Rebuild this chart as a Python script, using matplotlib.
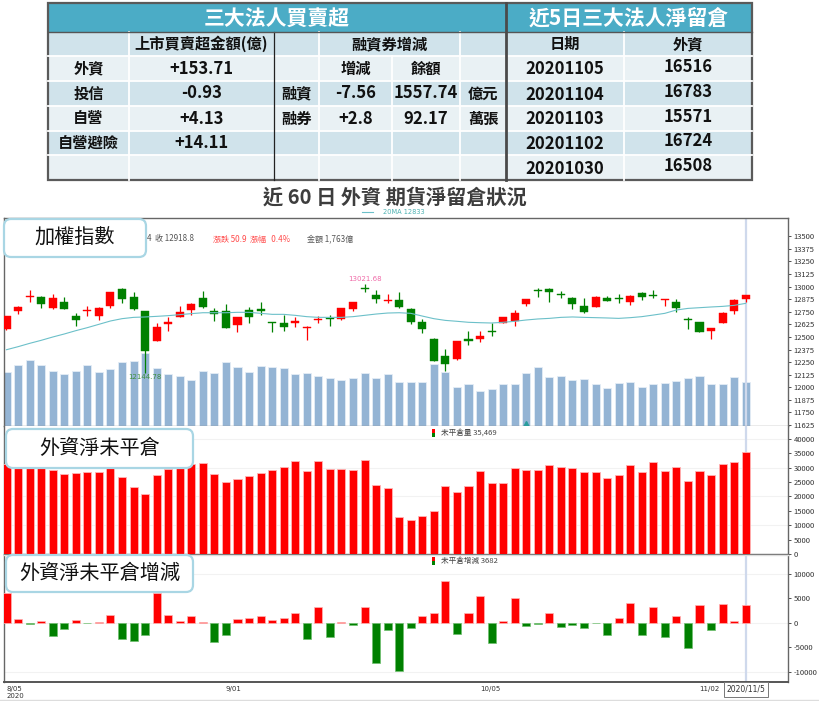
import numpy as np
import matplotlib
matplotlib.use("Agg")
import matplotlib.pyplot as plt
from matplotlib.patches import Rectangle, FancyBboxPatch

plt.rcParams['font.family'] = ['Noto Sans CJK TC', 'DejaVu Sans']

# ---- 表格資料 ----
left_title = "三大法人買賣超"
right_title = "近5日三大法人淨留倉"
inst_names = ["外資", "投信", "自營", "自營避險"]
inst_net = ["+153.71", "-0.93", "+4.13", "+14.11"]
margin_names = ["融資", "融券"]
margin_chg = ["-7.56", "+2.8"]
margin_bal = ["1557.74", "92.17"]
margin_unit = ["億元", "萬張"]
oi_dates = ["20201105", "20201104", "20201103", "20201102", "20201030"]
oi_foreign = ["16516", "16783", "15571", "16724", "16508"]

# ---- 加權指數 K 線 ----
opens = [12575, 12757, 12893, 12893, 12783, 12850, 12707, 12757, 12707, 12810,
         12972, 12899, 12757, 12459, 12628, 12701, 12767, 12883, 12757, 12757,
         12618, 12767, 12774, 12645, 12641, 12635, 12588, 12668, 12691, 12674,
         12777, 12982, 12912, 12853, 12866, 12780, 12648, 12482, 12307, 12278,
         12479, 12479, 12562, 12638, 12661, 12823, 12957, 12979, 12925, 12883,
         12807, 12800, 12883, 12880, 12850, 12939, 12919, 12866, 12843, 12681,
         12645, 12562, 12638, 12760, 12876]
highs = [12710, 12810, 12965, 12906, 12926, 12899, 12734, 12807, 12793, 12950,
         12982, 12942, 12760, 12635, 12701, 12807, 12833, 12955, 12790, 12826,
         12697, 12800, 12850, 12645, 12717, 12694, 12605, 12707, 12717, 12783,
         12850, 13021.68, 12965, 12922, 12942, 12783, 12674, 12485, 12377, 12460,
         12562, 12562, 12635, 12700, 12767, 12880, 12988, 12982, 12955, 12899,
         12889, 12906, 12906, 12926, 12912, 12949, 12965, 12873, 12873, 12694,
         12651, 12588, 12750, 12876, 12920]
lows = [12570, 12731, 12843, 12783, 12780, 12775, 12612, 12707, 12668, 12790,
        12833, 12772, 12144.78, 12455, 12562, 12695, 12717, 12783, 12658, 12585,
        12552, 12635, 12717, 12552, 12562, 12602, 12469, 12641, 12612, 12670,
        12757, 12942, 12840, 12833, 12790, 12625, 12542, 12260, 12160, 12275,
        12420, 12453, 12509, 12635, 12608, 12810, 12899, 12850, 12883, 12777,
        12740, 12797, 12857, 12833, 12817, 12866, 12889, 12807, 12750, 12575,
        12545, 12476, 12635, 12727, 12850]
closes = [12707, 12800, 12909, 12826, 12886, 12777, 12668, 12760, 12790, 12949,
          12873, 12774, 12363, 12602, 12645, 12750, 12826, 12793, 12724, 12585,
          12694, 12694, 12754, 12640, 12602, 12658, 12602, 12681, 12674, 12783,
          12843, 12976, 12873, 12866, 12793, 12645, 12582, 12264, 12231, 12456,
          12463, 12506, 12545, 12698, 12734, 12876, 12955, 12942, 12920, 12823,
          12744, 12899, 12860, 12876, 12909, 12899, 12903, 12870, 12790, 12664,
          12549, 12585, 12734, 12868, 12918.8]
ma20 = [12373, 12403, 12436, 12466, 12499, 12529, 12562, 12592, 12625, 12658,
        12681, 12694, 12698, 12704, 12711, 12721, 12731, 12740, 12740, 12740,
        12744, 12744, 12734, 12724, 12724, 12714, 12701, 12694, 12694, 12694,
        12701, 12714, 12727, 12737, 12740, 12734, 12707, 12681, 12664, 12655,
        12645, 12641, 12638, 12645, 12655, 12668, 12678, 12684, 12694, 12698,
        12694, 12691, 12688, 12684, 12691, 12701, 12717, 12734, 12767, 12783,
        12790, 12797, 12803, 12813, 12833]
volume = [2163, 2414, 2640, 2414, 2175, 2070, 2202, 2414, 2163, 2255,
          2534, 2574, 2893, 2295, 2070, 2003, 1818, 2202, 2109, 2534,
          2335, 2136, 2388, 2361, 2295, 2070, 2109, 2003, 1923, 1818,
          1897, 2109, 1897, 2070, 1765, 1738, 1765, 2481, 2136, 1552,
          1685, 1380, 1486, 1658, 1658, 2109, 2335, 1937, 2003, 1831,
          1884, 1658, 1499, 1698, 1765, 1539, 1658, 1725, 1791, 1897,
          2003, 1658, 1685, 1937, 1763]

# ---- 外資淨未平倉 ----
open_interest = [31150, 31900, 31630, 31970, 29185, 27806, 28265, 28495, 28495, 29990,
                 26772, 23095, 20900, 27400, 29480, 29750, 31300, 31483, 27691, 25163,
                 25967, 27002, 28265, 29185, 30104, 32172, 28840, 32172, 29414, 29529,
                 29185, 32632, 24014, 22750, 12984, 11835, 13328, 15052, 23669, 21601,
                 23440, 28840, 24589, 24818, 29989, 29300, 29070, 30793, 30104, 29759,
                 28495, 28610, 26312, 27346, 31023, 28610, 31827, 28840, 30334, 25278,
                 28840, 27346, 31253, 31787, 35469]
oi_change = [5966, 746, -271, 339, -2780, -1288, 542, -50, 150, 1492,
             -3322, -3661, -2576, 5966, 1559, 271, 1424, 203, -3865, -2509,
             814, 1017, 1356, 542, 1017, 1966, -3390, 3187, -2848, 203,
             -407, 3187, -8272, -1424, -9763, -1153, 1424, 1966, 8475, -2305,
             1898, 5356, -4204, 271, 5017, -678, -339, 1898, -814, -407,
             -1153, -100, -2441, 1017, 3932, -2441, 3119, -2983, 1356, -5153,
             3661, -1559, 3865, 339, 3682]

date_ticks = [0, 19, 41, 60]
date_labels = ["8/05\n2020", "9/01", "10/05", "11/02"]
last_date = "2020/11/5"

RED = '#ff0000'
GREEN = '#008000'
TEAL_HEAD = '#4bacc6'
MA_COLOR = '#6cc0c9'

W, H = 820, 701
fig = plt.figure(figsize=(W / 100, H / 100), dpi=100)


def rect(x0, y0, x1, y1):
    return [x0 / W, 1 - y1 / H, (x1 - x0) / W, (y1 - y0) / H]


n = len(closes)
x = np.arange(n)
# 像素 4..788 對應的 index 範圍
XL = (4 - 6.5) / 11.55
XR = (788 - 6.5) / 11.55


def style_axis(ax, ticks, labels=None):
    ax.set_xlim(XL, XR)
    ax.yaxis.tick_right()
    ax.set_yticks(ticks)
    ax.set_yticklabels(labels if labels else [str(t) for t in ticks])
    ax.tick_params(axis='y', labelsize=5.5, length=2.5, width=0.6, colors='#333333', pad=1.5)
    ax.set_xticks([])
    for s in ['left', 'right', 'top', 'bottom']:
        ax.spines[s].set_color('#666666')
        ax.spines[s].set_linewidth(1.0)
    ax.axvline(n - 1, color='#cfd9ec', lw=1.6, zorder=0)


# ---- 成交量 (背景) ----
axv = fig.add_axes(rect(4, 218, 788, 426), zorder=1)
axv.bar(x, volume, width=0.7, color='#94b4d4', edgecolor='#e4edf6', linewidth=0.6)
axv.set_xlim(XL, XR)
axv.set_ylim(0, 8278)
axv.axis('off')

# ---- K 線 ----
ax1 = fig.add_axes(rect(4, 218, 788, 426), zorder=2)
ax1.patch.set_visible(False)
for i in range(n):
    o, h, l, c = opens[i], highs[i], lows[i], closes[i]
    col = RED if c >= o else GREEN
    ax1.vlines(i, l, h, color=col, lw=0.9, zorder=3)
    body = max(abs(c - o), 9)
    ax1.bar(i, body, bottom=min(o, c), width=0.7, color=col, edgecolor=col,
            linewidth=0.3, zorder=4)
ax1.plot(x, ma20, color=MA_COLOR, lw=0.8, zorder=5)
ax1.set_ylim(11616, 13680)
style_axis(ax1, list(range(11625, 13501, 125)))
ax1.spines['bottom'].set_color('#999999')
ax1.plot([45], [11632], marker='^', color='#2a9d9d', markersize=4, zorder=6)
ax1.text(31, highs[31] + 25, "13021.68", color='#f06aa8', fontsize=5,
         ha='center', va='bottom', family='DejaVu Sans')
ax1.text(12, lows[12] - 10, "12144.78", color='#3f8f3f', fontsize=5,
         ha='center', va='top', family='DejaVu Sans')

# ---- 外資淨未平倉 ----
ax2 = fig.add_axes(rect(4, 426, 788, 554), zorder=2)
ax2.bar(x, open_interest, width=0.7, color=RED, edgecolor='#ffb4b4', linewidth=0.6, zorder=3)
ax2.set_ylim(0, 44444)
for g in [10000, 20000, 30000, 40000]:
    ax2.axhline(g, color='#f2f2f2', lw=0.8, zorder=0)
style_axis(ax2, list(range(0, 40001, 5000)))
ax2.spines['top'].set_visible(False)

# ---- 外資淨未平倉增減 ----
ax3 = fig.add_axes(rect(4, 555, 788, 682), zorder=2)
chg_colors = [RED if v >= 0 else GREEN for v in oi_change]
ax3.bar(x, oi_change, width=0.7, color=chg_colors,
        edgecolor=['#ffb4b4' if v >= 0 else '#6fbf6f' for v in oi_change],
        linewidth=0.5, zorder=3)
ax3.set_ylim(-12102, 13816)
for g in [-10000, 0, 10000]:
    ax3.axhline(g, color='#f2f2f2', lw=0.8, zorder=0)
style_axis(ax3, list(range(-10000, 10001, 5000)))
ax3.spines['top'].set_color('#dddddd')
ax3.spines['bottom'].set_color('#555555')
ax3.spines['bottom'].set_linewidth(1.4)
for t, lab in zip(date_ticks, date_labels):
    ax3.text(t, -12900, lab, fontsize=5, color='#333333', ha='left', va='top',
             family='DejaVu Sans', linespacing=1.3)
ax3.text(n - 1, -12700, last_date, fontsize=5.5, color='#333333', ha='center', va='top',
         family='DejaVu Sans',
         bbox=dict(boxstyle='square,pad=0.35', fc='white', ec='#777777', lw=0.7))

# ---- 覆蓋層：表格、標題、標籤框 ----
ov = fig.add_axes([0, 0, 1, 1], zorder=10)
ov.set_xlim(0, W)
ov.set_ylim(H, 0)
ov.axis('off')

rows_y = [3, 32, 56, 81, 106, 131, 155, 180]
dark_row = '#d0e3eb'
light_row = '#e9f1f4'

ov.add_patch(Rectangle((48, 3), 704, 29, fc=TEAL_HEAD, ec='none'))
for r in range(6):
    y0 = rows_y[r + 1]
    ov.add_patch(Rectangle((48, y0), 704, rows_y[r + 2] - y0,
                           fc=dark_row if r % 2 == 0 else light_row, ec='none'))
# 白色格線
for y in rows_y[2:-1]:
    ov.plot([48, 752], [y, y], color='white', lw=1.3)
for cx in [129, 319, 460, 624]:
    ov.plot([cx, cx], [32, 180], color='white', lw=1.3)
ov.plot([392, 392], [56, 180], color='white', lw=1.3)
ov.plot([274, 274], [32, 180], color='#222222', lw=0.9)
ov.plot([48, 752], [32, 32], color='#555555', lw=1.0)
ov.plot([506, 506], [3, 180], color='#4a4a4a', lw=2.0)
ov.add_patch(Rectangle((48, 3), 704, 177, fc='none', ec='#5a5a5a', lw=1.6))

ov.text(277, 18, left_title, color='white', fontsize=15, fontweight='bold', ha='center', va='center')
ov.text(629, 18, right_title, color='white', fontsize=15, fontweight='bold', ha='center', va='center')

row_c = [(rows_y[k] + rows_y[k + 1]) / 2 for k in range(1, 7)]
cell = dict(fontsize=11, fontweight='bold', ha='center', va='center', color='#111111')
num = dict(fontsize=12, fontweight='bold', ha='center', va='center', color='#111111')

ov.text(201.5, row_c[0], "上市買賣超金額(億)", **cell)
ov.text(389.5, row_c[0], "融資券增減", **cell)
ov.text(565, row_c[0], "日期", **cell)
ov.text(688, row_c[0], "外資", **cell)
ov.text(355.5, row_c[1], "增減", **cell)
ov.text(426, row_c[1], "餘額", **cell)
for k in range(4):
    ov.text(88.5, row_c[k + 1], inst_names[k], **cell)
    ov.text(201.5, row_c[k + 1], inst_net[k], **num)
for k in range(2):
    ov.text(296.5, row_c[k + 2], margin_names[k], **cell)
    ov.text(355.5, row_c[k + 2], margin_chg[k], **num)
    ov.text(426, row_c[k + 2], margin_bal[k], **num)
    ov.text(483, row_c[k + 2], margin_unit[k], **cell)
for k in range(5):
    ov.text(565, row_c[k + 1] + 1, oi_dates[k], **num)
    ov.text(688, row_c[k + 1] - 1.5, oi_foreign[k], **num)

ov.text(395, 197, "近 60 日 外資 期貨淨留倉狀況", fontsize=14.5, fontweight='bold',
        color='#3d3d3d', ha='center', va='center')
ov.plot([362, 373], [212, 212], color=MA_COLOR, lw=0.8)
ov.text(383, 212, "20MA 12833", fontsize=4.8, color='#4fb3b3', va='center', family='DejaVu Sans')

# 指數資訊列
ov.text(147, 239, "4  收 12918.8", fontsize=5.8, color='#555555', va='center')
ov.text(213, 239, "漲跌 50.9  漲幅   0.4%", fontsize=5.8, color='#ff4a4a', va='center')
ov.text(307, 239, "金額 1,763億", fontsize=5.8, color='#555555', va='center')

# 圖例
for ly, lab in [(433, "未平倉量 35,469"), (561, "未平倉增減 3682")]:
    ov.add_patch(Rectangle((432.5, ly - 4), 3, 4, fc=RED, ec='none'))
    ov.add_patch(Rectangle((432.5, ly), 3, 4, fc=GREEN, ec='none'))
    ov.text(441, ly, lab, fontsize=5.5, color='#444444', va='center')

# 區塊標籤框
for (bx0, by0, bx1, by1, lab) in [(4, 219, 146, 257, "加權指數"),
                                  (6, 429, 193, 468, "外資淨未平倉"),
                                  (6, 555, 193, 592, "外資淨未平倉增減")]:
    ov.add_patch(FancyBboxPatch((bx0, by0), bx1 - bx0, by1 - by0,
                                boxstyle="round,pad=0,rounding_size=7",
                                fc='white', ec='#a9d6e4', lw=1.6))
    ov.text((bx0 + bx1) / 2, (by0 + by1) / 2, lab, fontsize=14.5, fontweight='medium',
            color='#111111', ha='center', va='center')

# 圖表底部邊線
ov.plot([0, W], [699.5, 699.5], color='#dddddd', lw=1.0)

fig.savefig("out.png", dpi=100)
